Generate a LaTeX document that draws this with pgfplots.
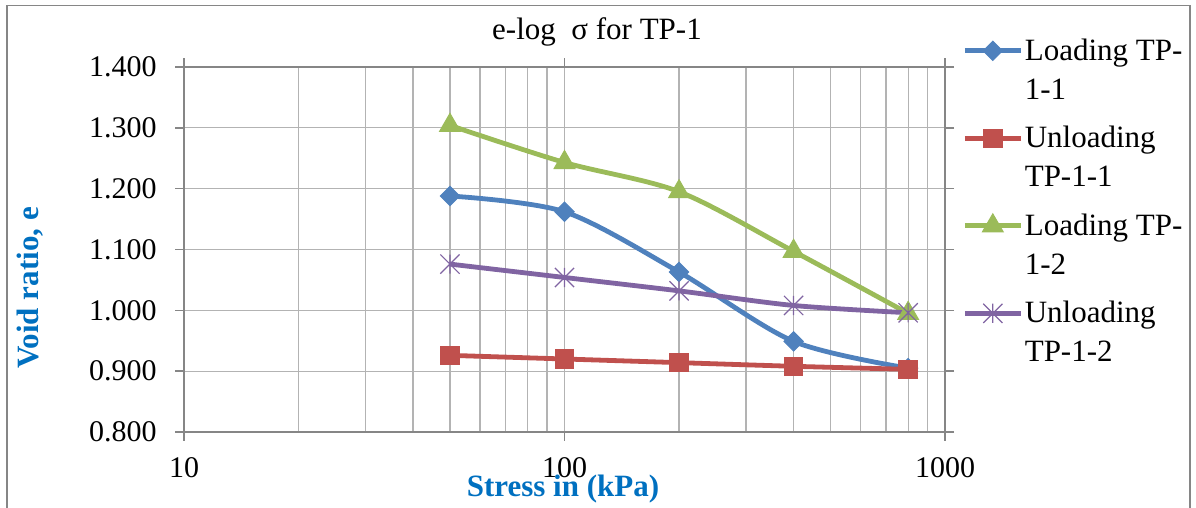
\documentclass[border=0pt]{standalone}
\usepackage{pgfplots}
\pgfplotsset{compat=1.18}
\usepackage{fontspec}
\setmainfont{Liberation Serif}

\definecolor{sBlue}{HTML}{4F81BD}
\definecolor{sRed}{HTML}{C0504D}
\definecolor{sGreen}{HTML}{9BBB59}
\definecolor{sPurple}{HTML}{8064A2}
\definecolor{gridgray}{HTML}{B3B3B3}
\definecolor{axisgray}{HTML}{868686}
\definecolor{labelblue}{HTML}{0070C0}

% star marker: a cross with a vertical bar through it
\pgfdeclareplotmark{xbar}{%
  \pgfpathmoveto{\pgfqpoint{-\pgfplotmarksize}{-\pgfplotmarksize}}%
  \pgfpathlineto{\pgfqpoint{\pgfplotmarksize}{\pgfplotmarksize}}%
  \pgfpathmoveto{\pgfqpoint{-\pgfplotmarksize}{\pgfplotmarksize}}%
  \pgfpathlineto{\pgfqpoint{\pgfplotmarksize}{-\pgfplotmarksize}}%
  \pgfpathmoveto{\pgfqpoint{0pt}{-\pgfplotmarksize}}%
  \pgfpathlineto{\pgfqpoint{0pt}{\pgfplotmarksize}}%
  \pgfusepathqstroke}

\begin{document}
\begin{tikzpicture}
\useasboundingbox (0,0) rectangle (598pt,254pt);
\draw[axisgray, line width=0.8pt] (3.6pt,-10pt) rectangle (595pt,251.3pt);

\begin{axis}[
  at={(92pt,38pt)}, anchor=south west,
  scale only axis, width=380.5pt, height=182.5pt,
  xmode=log, xmin=10, xmax=1000,
  ymin=0.8, ymax=1.4,
  ytick={0.8,0.9,1.0,1.1,1.2,1.3,1.4},
  xtick={10,100,1000}, xticklabels={10,100,1000},
  /pgf/number format/assume math mode=true,
  y tick label style={/pgf/number format/fixed, /pgf/number format/fixed zerofill, /pgf/number format/precision=3},
  tick label style={font=\fontsize{15}{18}\selectfont, black},
  grid=both,
  major grid style={gridgray, line width=0.6pt},
  minor grid style={gridgray, line width=0.6pt},
  axis line style={axisgray, line width=0.8pt},
  tick style={axisgray, line width=0.8pt},
  tick align=outside,
  major tick length=4.5pt,
  minor tick length=0pt,
  every tick label/.append style={inner sep=0pt},
  yticklabel style={xshift=-9pt},
  xticklabel style={yshift=-8pt},
  clip=false,
  legend cell align=left,
  legend style={draw=none, fill=none, inner sep=0pt,
    font=\fontsize{15.5}{19.5}\selectfont,
    cells={align=left, inner xsep=0.5pt},
    row sep=8pt,
    at={(1.0255,1.09)}, anchor=north west},
  legend image code/.code={%
    \pgfpathrectangle{\pgfqpoint{0pt}{-9.75pt}}{\pgfqpoint{28pt}{19.5pt}}%
    \pgfusepath{use as bounding box}%
    \draw[mark repeat=2, mark phase=2, #1] plot coordinates {(0pt,9.75pt) (14pt,9.75pt) (28pt,9.75pt)};},
  every axis plot/.append style={line width=2.4pt, smooth, tension=0.5},
]
\addplot[sBlue, mark=square*, mark size=3.4pt, mark options={rotate=45, line width=0.5pt}]
  coordinates {(50,1.188) (100,1.162) (200,1.063) (400,0.949) (800,0.905)};
\addlegendentry{Loading TP-\\1-1}
\addplot[sRed, mark=square*, mark size=4.6pt, mark options={line width=0.5pt}]
  coordinates {(50,0.926) (100,0.920) (200,0.914) (400,0.908) (800,0.903)};
\addlegendentry{Unloading\\TP-1-1}
\addplot[sGreen, mark=triangle*, mark size=6pt, mark options={line width=0.5pt}]
  coordinates {(50,1.304) (100,1.243) (200,1.195) (400,1.097) (800,0.995)};
\addlegendentry{Loading TP-\\1-2}
\addplot[sPurple, mark=xbar, mark size=4.8pt, mark options={line width=0.6pt}]
  coordinates {(50,1.076) (100,1.054) (200,1.032) (400,1.008) (800,0.996)};
\addlegendentry{Unloading\\TP-1-2}
\end{axis}

\node[anchor=base, font=\fontsize{15.5}{18}\selectfont] at (298.5pt,234pt) {e-log \ σ for TP-1};
\node[anchor=base, font=\fontsize{15.5}{18}\selectfont\bfseries, text=labelblue] at (281.5pt,5.5pt) {Stress in (kPa)};
\node[rotate=90, font=\fontsize{15.5}{18}\selectfont\bfseries, text=labelblue] at (15.2pt,110pt) {Void ratio, e};
\end{tikzpicture}
\end{document}
